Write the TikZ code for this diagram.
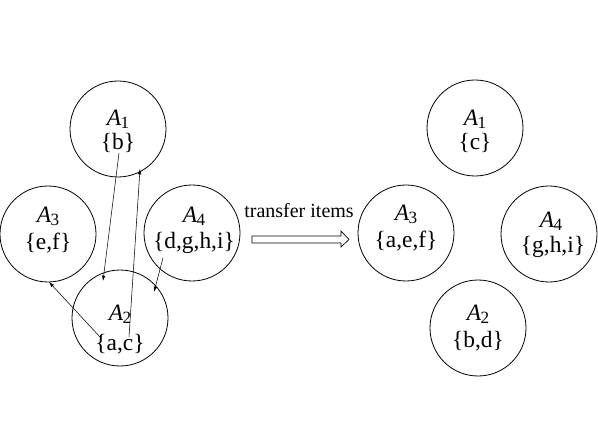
\documentclass[tikz,border=0pt]{standalone}
\usepackage{fontspec}
\setmainfont{Liberation Serif}
\usetikzlibrary{arrows.meta}
\newcommand\Asub[1]{\textit{A}\kern-0.02em\raisebox{-0.3ex}{\fontsize{11}{11}\selectfont #1}}
\begin{document}
\begin{tikzpicture}[x=0.75pt,y=-0.75pt,
  ring/.style={draw,circle,line width=0.6pt,minimum size=72pt,inner sep=0pt},
  lbl/.style={inner sep=0pt,font=\fontsize{15}{17}\selectfont,scale=1.17},
  conn/.style={line width=0.4pt,-{Latex[length=4pt,width=2.6pt]}}]
\useasboundingbox (0,0) rectangle (598,423);
% left
\node[ring] (L1) at (118,129) {};
\node[ring] (L3) at (48,234) {};
\node[ring] (L4) at (192,233) {};
\node[ring] (L2) at (120,318) {};
\node[lbl] (L1a) at (118,119) {\Asub{1}};
\node[lbl] (L1b) at (118,143) {\{b\}};
\node[lbl] (L3a) at (48,216) {\Asub{3}};
\node[lbl] (L3b) at (48,243) {\{e,f\}};
\node[lbl] (L4a) at (194,216) {\Asub{4}};
\node[lbl] (L4b) at (194,243) {\{d,g,h,i\}};
\node[lbl] (L2a) at (120,314) {\Asub{2}};
\node[lbl] (L2b) at (120,344) {\{a,c\}};
\coordinate (p1s) at (119,153); \coordinate (p1e) at (103,281);
\coordinate (p2s) at (129,337); \coordinate (p2e) at (140,169);
\coordinate (p3s) at (163,258); \coordinate (p3e) at (154,292);
\coordinate (p4s) at (100,337); \coordinate (p4e) at (49,282);
\draw[conn] (p1s) -- (p1e);
\draw[conn] (p2s) -- (p2e);
\draw[conn] (p3s) -- (p3e);
\draw[conn] (p4s) -- (p4e);
% transfer arrow
\node[inner sep=0pt,font=\fontsize{15}{17}\selectfont] (tr) at (299,211) {transfer items};
\draw[line width=0.5pt] (252,236) -- (341,236) -- (341,231) -- (349,239.5) -- (341,247) -- (341,243) -- (252,243) -- cycle;
% right
\node[ring] (R1) at (475,128) {};
\node[ring] (R3) at (406,233) {};
\node[ring] (R4) at (549,234) {};
\node[ring] (R2) at (478,328) {};
\node[lbl] (R1a) at (475,119) {\Asub{1}};
\node[lbl] (R1b) at (475,143) {\{c\}};
\node[lbl] (R3a) at (406,214) {\Asub{3}};
\node[lbl] (R3b) at (406,241) {\{a,e,f\}};
\node[lbl] (R4a) at (551,221) {\Asub{4}};
\node[lbl] (R4b) at (553,247) {\{g,h,i\}};
\node[lbl] (R2a) at (478,314) {\Asub{2}};
\node[lbl] (R2b) at (478,341) {\{b,d\}};
\end{tikzpicture}
\end{document}
